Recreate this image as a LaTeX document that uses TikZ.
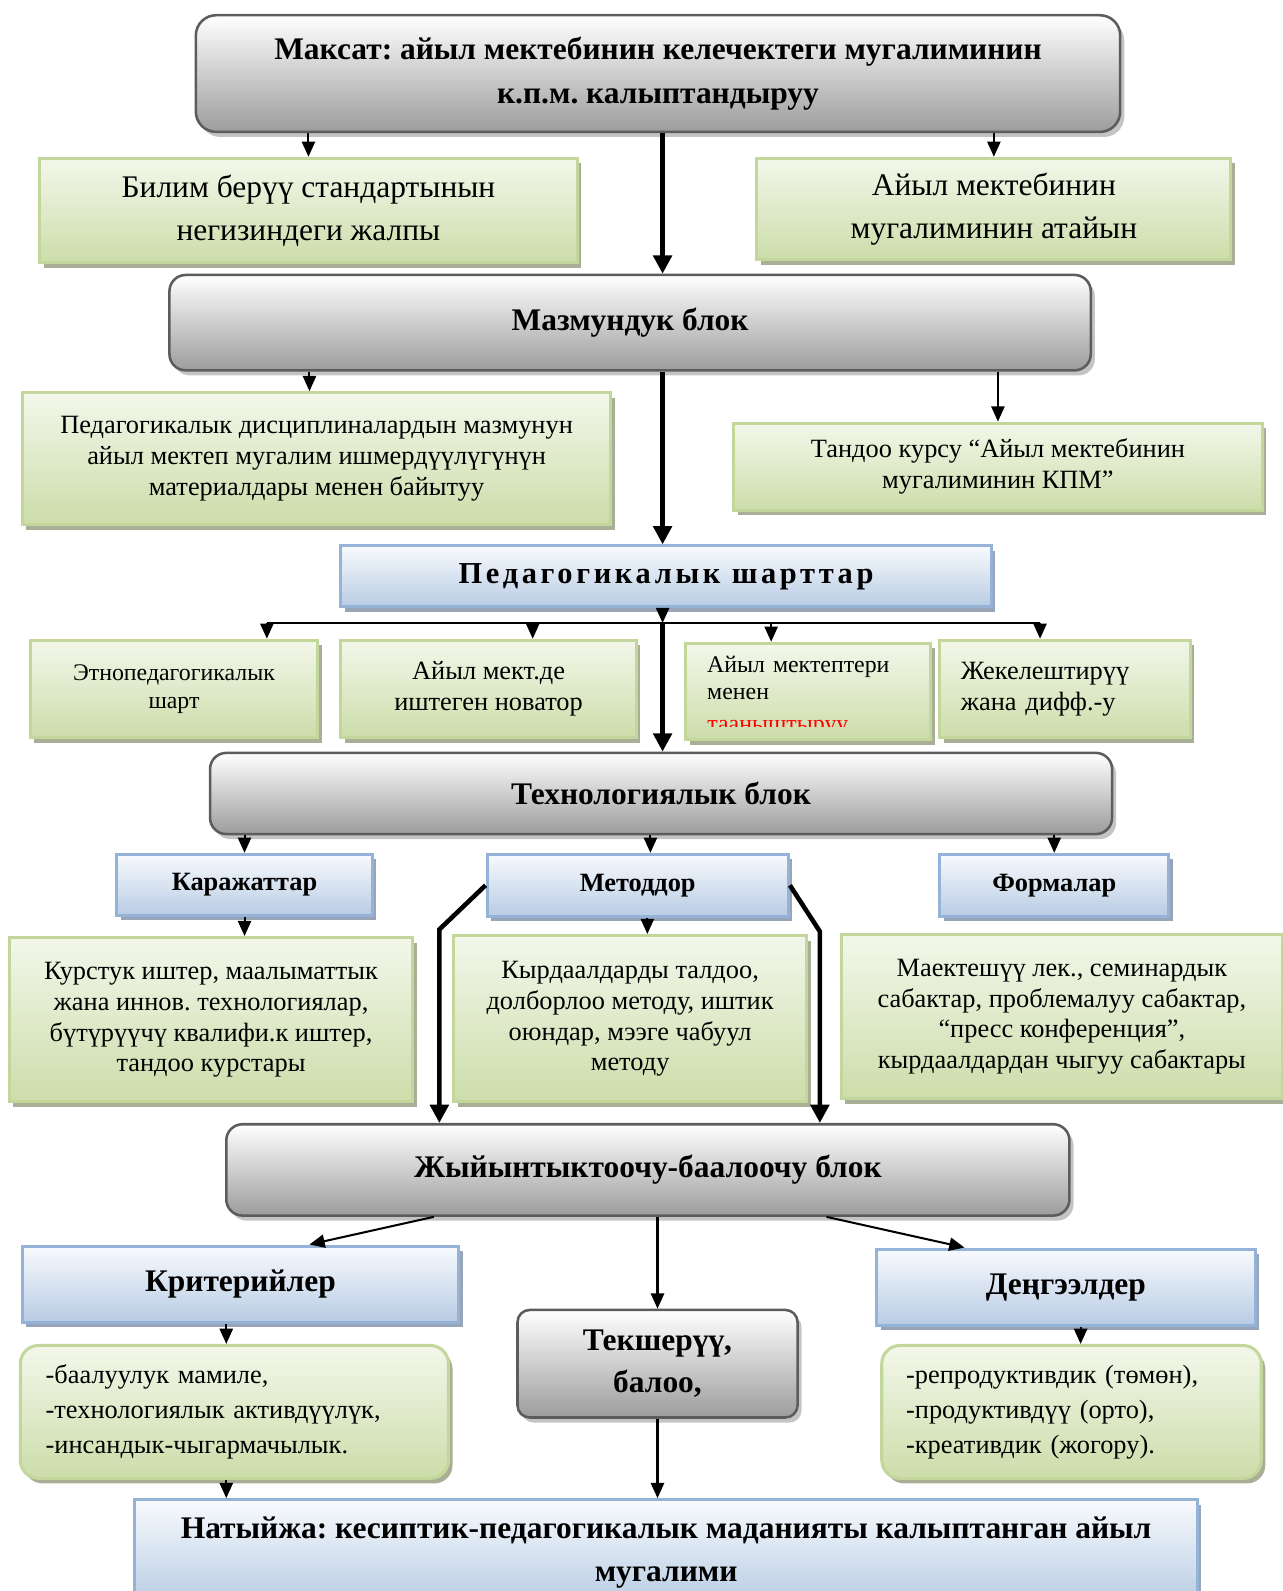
\documentclass[tikz,border=0pt]{standalone}
\usepackage{fontspec}
\setmainfont{Liberation Serif}
\frenchspacing
\usetikzlibrary{arrows.meta,shadows}
\definecolor{grauRand}{HTML}{5C5C5C}
\definecolor{grauUnten}{HTML}{9C9C9C}
\definecolor{grauSchatten}{HTML}{C4C4C4}
\definecolor{gruenRand}{HTML}{C3D69B}
\definecolor{gruenHell}{HTML}{F3F7EA}
\definecolor{gruenDunkel}{HTML}{CCDDAA}
\definecolor{gruenSchatten}{HTML}{A9AE96}
\definecolor{blauRand}{HTML}{95B3D7}
\definecolor{blauHell}{HTML}{F8FAFD}
\definecolor{blauDunkel}{HTML}{B8CCE4}
\definecolor{blauSchatten}{HTML}{98A5B9}
\tikzset{
 grau/.style={draw=grauRand,line width=2.5pt,rounded corners=16pt,top color=white,bottom color=grauUnten,
  drop shadow={shadow xshift=4pt,shadow yshift=-5pt,fill=grauSchatten,opacity=1},
  align=center,font=\bfseries\fontsize{31}{43}\selectfont},
 gruen/.style={draw=gruenRand,line width=3pt,top color=gruenHell,bottom color=gruenDunkel,
  drop shadow={shadow xshift=4pt,shadow yshift=-5pt,fill=gruenSchatten,opacity=1},
  align=center,font=\fontsize{26}{30.5}\selectfont},
 blau/.style={draw=blauRand,line width=3pt,top color=blauHell,bottom color=blauDunkel,
  drop shadow={shadow xshift=4pt,shadow yshift=-5pt,fill=blauSchatten,opacity=1},
  align=center,font=\bfseries\fontsize{26}{30}\selectfont},
 pfeil/.style={line width=2pt,-{Triangle[width=13pt,length=15pt]}},
 dick/.style={line width=4.5pt,-{Triangle[width=18pt,length=18pt]}},
 linie/.style={line width=2pt}
}
\begin{document}
\begin{tikzpicture}[x=1pt,y=-1pt]
\useasboundingbox (0,0) rectangle (1264,1568);
\coordinate (spine) at (653,0);
%Ziel
\node[grau,minimum width=911pt,minimum height=115pt,rounded corners=20pt] (goal) at (648.5,72.5)
 {Максат: айыл мектебинин келечектеги мугалиминин\\к.п.м. калыптандыруу};
\node[gruen,minimum width=530pt,minimum height=103pt,font=\fontsize{31}{42}\selectfont] (general) at (304,207.5)
 {Билим берүү стандартынын\\негизиндеги жалпы};
\node[gruen,minimum width=467pt,minimum height=100pt,font=\fontsize{31}{42}\selectfont] (special) at (979.5,206)
 {Айыл мектебинин\\мугалиминин атайын};
%Mazmundu
\node[grau,minimum width=908pt,minimum height=94pt] (content) at (621,318) {Мазмундук блок};
\node[gruen,minimum width=580pt,minimum height=130pt] (enrich) at (312,452)
 {Педагогикалык дисциплиналардын мазмунун\\айыл мектеп мугалим ишмердүүлүгүнүн\\материалдары менен байытуу};
\node[gruen,minimum width=521pt,minimum height=86pt] (elective) at (983.5,460)
 {Тандоо курсу “Айыл мектебинин\\мугалиминин КПМ”};
%Bedingungen
\node[blau,minimum width=641pt,minimum height=60pt,font=\bfseries\fontsize{30}{34}\selectfont\addfontfeature{LetterSpace=12}]
 (conditions) at (656.5,568) {Педагогикалык шарттар};
\node[gruen,minimum width=283pt,minimum height=96pt,font=\fontsize{23.5}{28}\selectfont] (ethno) at (171.5,679)
 {Этнопедагогикалык\\шарт};
\node[gruen,minimum width=291pt,minimum height=96pt] (novator) at (481.5,679)
 {Айыл мект.де\\иштеген новатор};
\node[gruen,minimum width=241pt,minimum height=95pt,text width=199pt,align=left,font=\fontsize{23.5}{27}\selectfont]
 (meet) at (796.5,681.5) {Айыл мектептери\\менен\\\phantom{т}};
\begin{scope}
\clip (676,634) rectangle (917,716);
\node[anchor=base west,inner sep=0pt,text=red,font=\fontsize{23.5}{27}\selectfont] (meetred) at (697,721) {тааныштыруу};
\end{scope}
\node[gruen,minimum width=247pt,minimum height=96pt,text width=205pt,align=left] (individ) at (1049.5,679)
 {Жекелештирүү\\жана дифф.-у};
%Technologie
\node[grau,minimum width=889pt,minimum height=80pt] (tech) at (651.5,782) {Технологиялык блок};
\node[blau,minimum width=252pt,minimum height=60pt] (means) at (241,872) {Каражаттар};
\node[blau,minimum width=297pt,minimum height=61pt] (methods) at (628.5,872.5) {Методдор};
\node[blau,minimum width=226pt,minimum height=61pt] (forms) at (1039,872.5) {Формалар};
\node[gruen,minimum width=398pt,minimum height=162pt] (meansdesc) at (208,1005)
 {Курстук иштер, маалыматтык\\жана иннов. технологиялар,\\бүтүрүүчү квалифи.к иштер,\\тандоо курстары};
\node[gruen,minimum width=348pt,minimum height=164pt] (methodsdesc) at (621,1004)
 {Кырдаалдарды талдоо,\\долборлоо методу, иштик\\оюндар, мээге чабуул\\методу};
\node[gruen,minimum width=435pt,minimum height=162pt] (formsdesc) at (1046.5,1002)
 {Маектешүү лек., семинардык\\сабактар, проблемалуу сабактар,\\“пресс конференция”,\\кырдаалдардан чыгуу сабактары};
%Ergebnis
\node[grau,minimum width=831pt,minimum height=90pt] (summary) at (638.5,1153) {Жыйынтыктоочу-баалоочу блок};
\node[blau,minimum width=430pt,minimum height=75pt,font=\bfseries\fontsize{31}{35}\selectfont] (criteria) at (237,1265.5) {Критерийлер};
\node[blau,minimum width=373pt,minimum height=75pt,font=\bfseries\fontsize{31}{35}\selectfont] (levels) at (1050.5,1268.5) {Деңгээлдер};
\node[grau,minimum width=276pt,minimum height=106pt,rounded corners=12pt,font=\bfseries\fontsize{31}{42}\selectfont]
 (check) at (648,1344) {Текшерүү,\\балоо,};
\node[gruen,rounded corners=18pt,minimum width=422pt,minimum height=131pt,text width=372pt,align=left,
 font=\fontsize{26}{34.5}\selectfont] (critlist) at (231,1391.5)
 {-баалуулук мамиле,\\-технологиялык активдүүлүк,\\-инсандык-чыгармачылык.};
\node[gruen,rounded corners=18pt,minimum width=374pt,minimum height=131pt,text width=326pt,align=left,
 font=\fontsize{26}{34.5}\selectfont] (levlist) at (1056,1391.5)
 {-репродуктивдик (төмөн),\\-продуктивдүү (орто),\\-креативдик (жогору).};
\node[blau,minimum width=1047pt,minimum height=104pt,font=\bfseries\fontsize{31}{42}\selectfont] (result) at (656.5,1530)
 {Натыйжа: кесиптик-педагогикалык маданияты калыптанган айыл\\мугалими};
%Pfeile
\draw[pfeil] (goal.south -| general.north) -- (general.north);
\draw[pfeil] (goal.south -| special.north) -- (special.north);
\draw[dick] (goal.south -| spine) -- (content.north -| spine);
\draw[pfeil] ([xshift=-316pt]content.south) -- ([xshift=-7pt]enrich.north);
\draw[pfeil] (content.south -| elective.north) -- (elective.north);
\draw[dick] (content.south -| spine) -- (conditions.north -| spine);
\coordinate (bus) at (653,614);
\coordinate (d1) at (263,614);
\coordinate (d2) at (525,614);
\coordinate (d3) at (760,614);
\coordinate (d4) at (1025,614);
\draw[linie] (d1) -- (d4);
\draw[pfeil] (conditions.south -| spine) -- (bus);
\draw[pfeil] (d1) -- (d1 |- ethno.north);
\draw[pfeil] (d2) -- (d2 |- novator.north);
\draw[pfeil] (d3) -- (d3 |- meet.north);
\draw[pfeil] (d4) -- (d4 |- individ.north);
\draw[dick] (bus) -- (tech.north -| spine);
\draw[pfeil] (tech.south -| means.north) -- (means.north);
\draw[pfeil] ([xshift=-10.5pt]tech.south) -- ([xshift=12.5pt]methods.north);
\draw[pfeil] (tech.south -| forms.north) -- (forms.north);
\draw[pfeil] (means.south) -- (means.south |- meansdesc.north);
\draw[pfeil] ([xshift=9.5pt]methods.south) -- ([xshift=17pt]methodsdesc.north);
\coordinate (lk) at (433,916);
\coordinate (rk) at (808,918);
\draw[dick] (methods.west) -- (lk) -- (lk |- summary.north);
\draw[dick] (methods.east) -- (rk) -- (rk |- summary.north);
\draw[pfeil] ([xshift=-211pt]summary.south) -- ([xshift=68pt]criteria.north);
\draw[pfeil] (summary.south -| check.north) -- (check.north);
\draw[pfeil] ([xshift=176pt]summary.south) -- ([xshift=-100pt]levels.north);
\draw[pfeil] ([xshift=-14pt]criteria.south) -- ([xshift=-8pt]critlist.north);
\draw[pfeil] ([xshift=14.5pt]levels.south) -- ([xshift=9pt]levlist.north);
\draw[pfeil] ([xshift=-8pt]critlist.south) -- ([xshift=-433.5pt]result.north);
\draw[pfeil] (check.south) -- (check.south |- result.north);
\end{tikzpicture}
\end{document}
